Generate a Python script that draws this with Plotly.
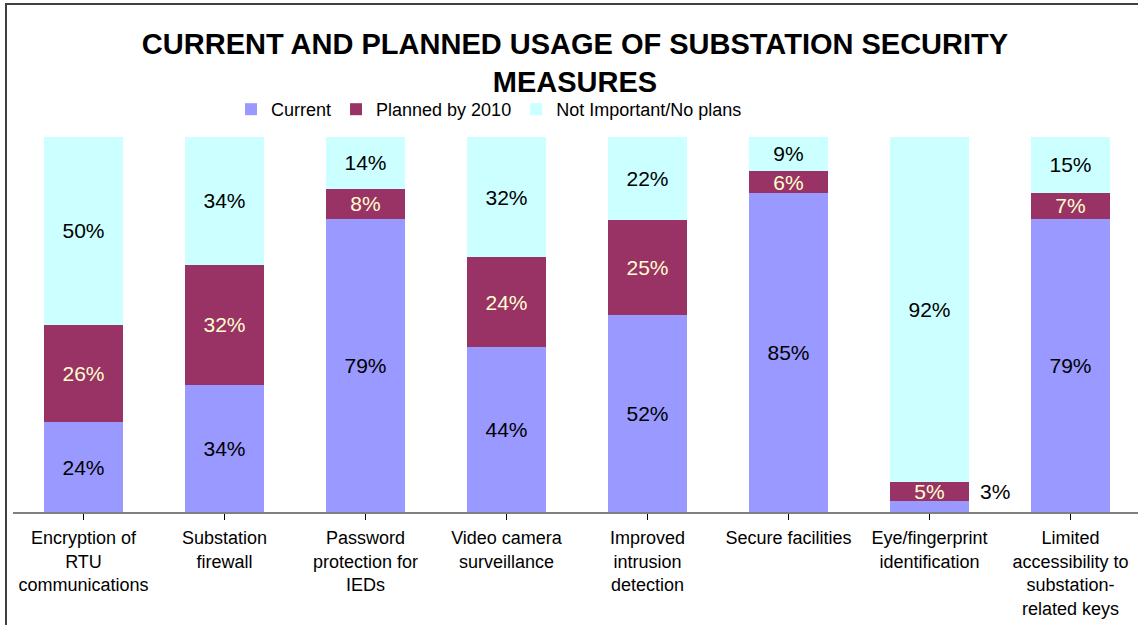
import plotly.graph_objects as go

# Survey results: share of utilities per security measure (percent)
categories = [
    "Encryption of<br>RTU<br>communications",
    "Substation<br>firewall",
    "Password<br>protection for<br>IEDs",
    "Video camera<br>surveillance",
    "Improved<br>intrusion<br>detection",
    "Secure facilities",
    "Eye/fingerprint<br>identification",
    "Limited<br>accessibility to<br>substation-<br>related keys",
]
current = [24, 34, 79, 44, 52, 85, 3, 79]
planned = [26, 32, 8, 24, 25, 6, 5, 7]
not_important = [50, 34, 14, 32, 22, 9, 92, 15]

series_names = ["Current", "Planned by 2010", "Not Important/No plans"]
series_colors = ["#9999FF", "#993366", "#CCFFFF"]
label_colors = ["#000000", "#FFFFCC", "#000000"]

FONT = "Liberation Sans, Arial, sans-serif"

# the tiny "Current" segment for eye/fingerprint gets its label beside the bar
small_idx = 6
current_text = [f"{v}%" if i != small_idx else "" for i, v in enumerate(current)]

fig = go.Figure()
for name, vals, color, lc, texts in zip(
    series_names,
    [current, planned, not_important],
    series_colors,
    label_colors,
    [current_text, [f"{v}%" for v in planned], [f"{v}%" for v in not_important]],
):
    fig.add_trace(go.Bar(
        x=list(range(len(categories))),
        y=vals,
        name=name,
        marker=dict(color=color, line=dict(width=0)),
        text=texts,
        textposition="inside",
        insidetextanchor="middle",
        textangle=0,
        textfont=dict(family=FONT, size=21, color=lc),
        hoverinfo="skip",
    ))

total = current[small_idx] + planned[small_idx] + not_important[small_idx]
fig.add_annotation(
    x=small_idx, y=(current[small_idx] + planned[small_idx] / 2) / total * 100,
    xref="x", yref="y", text=f"{current[small_idx]}%", showarrow=False,
    xshift=65, font=dict(family=FONT, size=21, color="#000000"),
)

# plot-area geometry in pixels, used for the outer frame
L, T, W, H = 13, 137, 1125, 375
def px_x(p):
    return (p - L) / W
def px_y(p):
    return (T + H - p) / H

fig.add_shape(
    type="rect", xref="paper", yref="paper",
    x0=px_x(6), x1=px_x(1160), y0=px_y(640), y1=px_y(4),
    line=dict(color="#404040", width=2), fillcolor="rgba(0,0,0,0)", layer="above",
)

fig.update_layout(
    width=1138, height=625,
    barmode="stack", barnorm="percent", bargap=0.44,
    margin=dict(l=L, r=0, t=T, b=625 - T - H, pad=0),
    paper_bgcolor="white", plot_bgcolor="white",
    font=dict(family=FONT, size=18, color="#000000"),
    title=dict(
        text="CURRENT AND PLANNED USAGE OF SUBSTATION SECURITY<br>MEASURES",
        x=575 / 1138, xanchor="center", xref="container",
        y=1 - 54 / 625, yanchor="top", yref="container",
        font=dict(family=FONT, size=29, color="#000000", weight="bold"),
    ),
    legend=dict(
        orientation="h", x=231 / 1138, xanchor="left", xref="container",
        y=1 - 91 / 625, yanchor="top", yref="container",
        font=dict(family=FONT, size=18, color="#000000"),
        bgcolor="rgba(0,0,0,0)", traceorder="normal",
    ),
    xaxis=dict(
        tickmode="array", tickvals=list(range(len(categories))), ticktext=categories,
        range=[-0.5, -0.5 + W / 141], showgrid=False, zeroline=False,
        showline=True, linecolor="#808080", linewidth=1.5,
        ticks="outside", tickson="boundaries", ticklen=6, tickcolor="#000000", tickwidth=1,
        ticklabelstandoff=3,
        tickfont=dict(family=FONT, size=18, color="#000000"), fixedrange=True,
    ),
    yaxis=dict(range=[0, 100], visible=False, fixedrange=True),
    uniformtext=dict(minsize=21, mode="show"),
    showlegend=True,
)

fig.write_html("out.html")
